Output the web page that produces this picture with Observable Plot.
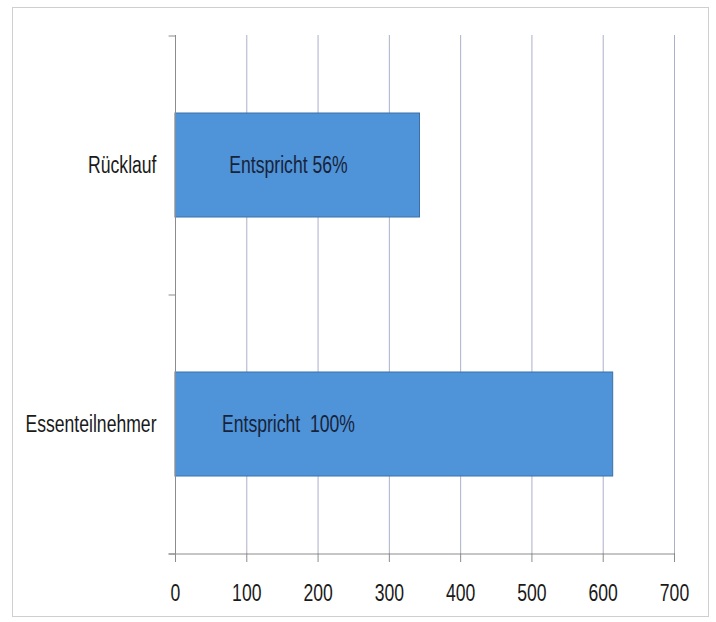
<!DOCTYPE html>
<html>
<head>
<meta charset="utf-8">
<script src="https://cdn.jsdelivr.net/npm/d3@7"></script>
<script src="https://cdn.jsdelivr.net/npm/@observablehq/plot@0.6"></script>
<style>
  html, body { margin: 0; padding: 0; background: #ffffff; }
  #wrap { position: relative; width: 716px; height: 622px; overflow: hidden; }
  #wrap svg { position: absolute; left: 0; top: 0; }
  #wrap svg text { white-space: pre; }
  #border {
    position: absolute; left: 12px; top: 7px; width: 695px; height: 608px;
    border: 1px solid #cfcfd2; pointer-events: none;
  }
</style>
</head>
<body>
<div id="wrap"><div id="border"></div></div>
<script>
// Survey response: how many of the meal participants answered
const categories = ["Rücklauf", "Essenteilnehmer"];
const counts = [343, 614];
const labelPrefixes = ["Entspricht ", "Entspricht  "];
const xTicks = [0, 100, 200, 300, 400, 500, 600, 700];

const total = counts[categories.indexOf("Essenteilnehmer")];
const rows = categories.map((category, i) => ({
  category,
  count: counts[i],
  label: `${labelPrefixes[i]}${Math.round((counts[i] / total) * 100)}%`
}));

const W = 716, H = 622;
const margin = {top: 35, right: 42, bottom: 69, left: 175};
const step = (H - margin.top - margin.bottom) / categories.length;

const FONT = "'Liberation Sans', Arial, sans-serif";
const CONDENSE = 0.765; // narrow lettering, like a condensed face
const axisColor = "#8c8c8c";
const gridColor = "#aab0c8";
const textColor = "#1a1a1a";

const chart = Plot.plot({
  width: W,
  height: H,
  marginTop: margin.top,
  marginRight: margin.right,
  marginBottom: margin.bottom,
  marginLeft: margin.left,
  style: {fontFamily: FONT, fontSize: "23px", background: "transparent", color: textColor},
  x: {domain: [0, 700], axis: null},
  y: {domain: categories, paddingInner: 0.6, paddingOuter: 0.3, axis: null},
  marks: [
    // vertical gridlines
    Plot.gridX(xTicks, {stroke: gridColor, strokeOpacity: 1, strokeWidth: 1}),
    // bars
    Plot.barX(rows, {
      x: "count",
      y: "category",
      fill: "#4f93d8",
      stroke: "#3b70a8",
      strokeWidth: 1
    }),
    // category axis line and boundary ticks
    Plot.ruleX([0], {stroke: axisColor}),
    Plot.ruleY(categories, {y: d => d, dy: -step / 2, x1: -9, x2: 0, stroke: axisColor}),
    Plot.ruleY(categories.slice(-1), {y: d => d, dy: step / 2, x1: -9, x2: 0, stroke: axisColor}),
    // value axis baseline
    Plot.ruleY(categories.slice(-1), {y: d => d, dy: step / 2, x1: -9, x2: 700, stroke: axisColor}),
    Plot.axisX({
      ticks: xTicks,
      tickSize: 9,
      tickPadding: 22,
      stroke: axisColor,
      strokeOpacity: 1,
      fill: textColor,
      label: null
    }),
    Plot.axisY({tickSize: 0, tickPadding: 19, fill: textColor, label: null}),
    // percentage labels inside the bars
    Plot.text(rows, {
      y: "category",
      frameAnchor: "left",
      dx: 113,
      text: "label",
      textAnchor: "middle",
      fill: "#18233a"
    })
  ]
});

document.getElementById("wrap").prepend(chart);

// narrow every text run while keeping its height
chart.querySelectorAll("text").forEach(t => {
  const len = t.getComputedTextLength();
  if (len > 0) {
    t.setAttribute("textLength", (len * CONDENSE).toFixed(2));
    t.setAttribute("lengthAdjust", "spacingAndGlyphs");
  }
});
</script>
</body>
</html>
